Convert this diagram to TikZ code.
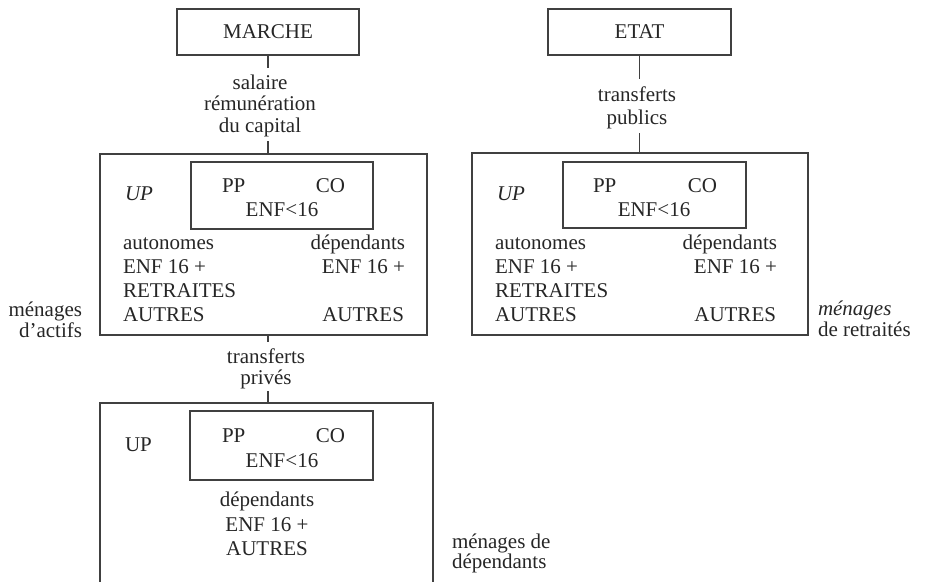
\documentclass[tikz,border=0pt]{standalone}
\usepackage{fontspec}
\setmainfont{Liberation Serif}
\usetikzlibrary{fit}
\begin{document}
\begin{tikzpicture}[x=1pt,y=-1pt,
  every node/.style={inner sep=0pt, outer sep=0pt, text=black!85},
  txt/.style={font=\fontsize{21}{24}\selectfont},
  frame/.style={draw=black!75, line width=1.1pt},
  conn/.style={draw=black!75, line width=1.1pt},
  grp/.style={inner sep=0pt, draw=none}]
\useasboundingbox (0,0) rectangle (925,581);
\clip (0,0) rectangle (925,581);

% top boxes
\node[frame, txt, minimum width=182pt, minimum height=46pt] (marche) at (268,32) {MARCHE};
\node[frame, txt, minimum width=183pt, minimum height=46pt] (etat) at (639.5,32) {ETAT};

% label salaire
\node[txt, anchor=base] (sal1) at (260,89) {salaire};
\node[txt, anchor=base] (sal2) at (260,110.5) {rémunération};
\node[txt, anchor=base] (sal3) at (260,132) {du capital};
\node[grp, fit=(sal1)(sal2)(sal3)] (lblsal) {};

% label transferts publics
\node[txt, anchor=base] (pub1) at (637,101) {transferts};
\node[txt, anchor=base] (pub2) at (637,124) {publics};
\node[grp, fit=(pub1)(pub2)] (lblpub) {};

% box 1 (menages d'actifs)
\node[frame, minimum width=327pt, minimum height=181pt] (box1) at (263.5,244.5) {};
\node[frame, minimum width=182pt, minimum height=67pt] (in1) at (282,195.5) {};
\node[txt, anchor=base west] (up1) at (125,200) {\itshape UP};
\node[txt, anchor=base west] (pp1) at (222,192) {PP};
\node[txt, anchor=base east] (co1) at (345,192) {CO};
\node[txt, anchor=base] (enf1) at (282,216) {ENF<16};
\node[txt, anchor=base west] (auto1) at (123,249) {autonomes};
\node[txt, anchor=base west] (ea1) at (123,273) {ENF 16 +};
\node[txt, anchor=base west] (ret1) at (123,297) {RETRAITES};
\node[txt, anchor=base west] (aa1) at (123,321) {AUTRES};
\node[txt, anchor=base east] (dep1) at (405,249) {dépendants};
\node[txt, anchor=base east] (eb1) at (405,273) {ENF 16 +};
\node[txt, anchor=base east] (ab1) at (404,321) {AUTRES};

% box 2 (menages de retraites)
\node[frame, minimum width=336pt, minimum height=182pt] (box2) at (640,244) {};
\node[frame, minimum width=183pt, minimum height=66pt] (in2) at (654.5,195) {};
\node[txt, anchor=base west] (up2) at (497,200) {\itshape UP};
\node[txt, anchor=base west] (pp2) at (593,192) {PP};
\node[txt, anchor=base east] (co2) at (717,192) {CO};
\node[txt, anchor=base] (enf2) at (654,216) {ENF<16};
\node[txt, anchor=base west] (auto2) at (495,249) {autonomes};
\node[txt, anchor=base west] (ea2) at (495,273) {ENF 16 +};
\node[txt, anchor=base west] (ret2) at (495,297) {RETRAITES};
\node[txt, anchor=base west] (aa2) at (495,321) {AUTRES};
\node[txt, anchor=base east] (dep2) at (777,249) {dépendants};
\node[txt, anchor=base east] (eb2) at (777,273) {ENF 16 +};
\node[txt, anchor=base east] (ab2) at (776,321) {AUTRES};

% label transferts prives
\node[txt, anchor=base] (pri1) at (266,363) {transferts};
\node[txt, anchor=base] (pri2) at (266,384) {privés};
\node[grp, fit=(pri1)(pri2)] (lblpri) {};

% box 3 (menages de dependants)
\node[frame, minimum width=333pt, minimum height=217pt] (box3) at (266.5,511.5) {};
\node[frame, minimum width=183pt, minimum height=69pt] (in3) at (281.5,445.5) {};
\node[txt, anchor=base west] (up3) at (125,451) {UP};
\node[txt, anchor=base west] (pp3) at (222,442) {PP};
\node[txt, anchor=base east] (co3) at (345,442) {CO};
\node[txt, anchor=base] (enf3) at (282,467) {ENF<16};
\node[txt, anchor=base] (dep3) at (267,506) {dépendants};
\node[txt, anchor=base] (e3) at (267,531) {ENF 16 +};
\node[txt, anchor=base] (a3) at (267,555) {AUTRES};

% side labels
\node[txt, anchor=base east] (ma1) at (82,316) {ménages};
\node[txt, anchor=base east] (ma2) at (82,337) {d'actifs};
\node[txt, anchor=base west] (mr1) at (818,315) {\itshape ménages};
\node[txt, anchor=base west] (mr2) at (818,336) {de retraités};
\node[txt, anchor=base west] (md1) at (452,548) {ménages de};
\node[txt, anchor=base west] (md2) at (452,568) {dépendants};

% connectors
\draw[conn, shorten >=6pt] (marche.south) -- (marche.south |- lblsal.north);
\draw[conn, shorten <=5pt] (marche.south |- lblsal.south) -- (marche.south |- box1.north);
\draw[conn, shorten >=7pt] (etat.south) -- (etat.south |- lblpub.north);
\draw[conn, shorten <=5pt] (etat.south |- lblpub.south) -- (etat.south |- box2.north);
\draw[conn, shorten >=6pt] (marche.south |- box1.south) -- (marche.south |- lblpri.north);
\draw[conn, shorten <=3pt] (marche.south |- lblpri.south) -- (marche.south |- box3.north);
\end{tikzpicture}
\end{document}
